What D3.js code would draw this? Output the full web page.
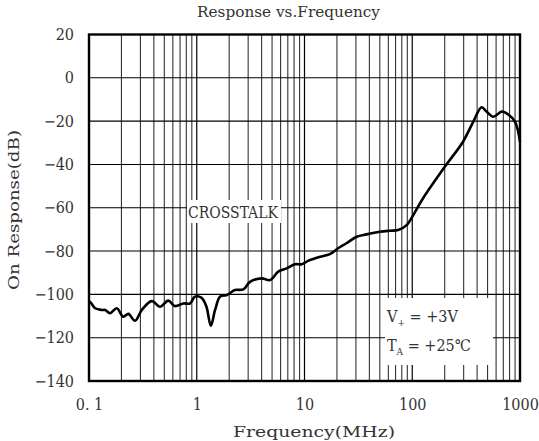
<!DOCTYPE html>
<html lang='en'>
    <head>
        <meta charset='utf-8'>
        <title>Response vs. Frequency</title>
        <script src="https://d3js.org/d3.v7.min.js" charset='utf-8'></script>
        <style type='text/css'>
            body { margin: 0; background: #fff; }
            svg text { font-family: 'DejaVu Serif Condensed', 'DejaVu Serif', serif; font-stretch: condensed; }
        </style>
    </head>
    <body>
        <script type='text/javascript'>
            // crosstalk curve: frequency (MHz), response (dB)
            var freq = [0.1, 0.102, 0.114, 0.131, 0.141, 0.157, 0.181, 0.208, 0.232, 0.267, 0.309,
                0.382, 0.456, 0.544, 0.628, 0.751, 0.865, 0.962, 1.11, 1.23, 1.35, 1.48, 1.65, 1.9,
                2.26, 2.71, 3.12, 4.01, 4.79, 5.71, 6.83, 8.16, 9.41, 10.9, 12.6, 14.0, 17.2, 20.5,
                24.5, 30.5, 37.6, 50, 61.9, 74, 88.7, 106, 126, 201, 296, 368, 440, 489, 565, 676,
                752, 899, 1000];
            var response = [-103.5, -103.4, -106.4, -107.2, -107.2, -108.7, -106.4, -110.3, -109, -112.2, -107.2,
                -103.1, -105.7, -102.9, -105.4, -104.2, -104.2, -101.1, -101.6, -105.7, -114.5, -107.2, -101, -100.3,
                -98, -97.7, -94.2, -92.6, -93.4, -89.5, -88, -86.1, -86.1, -84.4, -83.3, -82.6, -81.4, -78.7,
                -76.4, -73.4, -72.3, -71.1, -70.6, -70.3, -68, -62, -55.6, -41, -29.5, -20.3, -13.6, -15.6, -18, -15.6,
                -16.4, -20.3, -29.5];
            var xTicks = [0.1, 1, 10, 100, 1000];
            var xTickLabels = ['0. 1', '1', '10', '100', '1000'];
            var yTicks = [20, 0, -20, -40, -60, -80, -100, -120, -140];

            var width = 539, height = 441;
            var margin = {top: 34.5, right: 19, bottom: 60, left: 89};
            var svg = d3.select('body').append('svg')
                .attr('width', width)
                .attr('height', height);

            var x = d3.scaleLog().domain([0.1, 1000]).range([margin.left, width - margin.right]);
            var y = d3.scaleLinear().domain([-140, 20]).range([height - margin.bottom, margin.top]);

            // vertical grid: every 1..9 step of each decade
            var minor = [];
            for (var d = 0.1; d < 1000; d *= 10) {
                for (var k = 2; k <= 9; k++) minor.push(d * k);
            }
            svg.append('g').selectAll('line.minor')
                .data(minor)
                .enter().append('line')
                .attr('x1', function(v) { return x(v); })
                .attr('x2', function(v) { return x(v); })
                .attr('y1', y(20))
                .attr('y2', y(-140))
                .attr('stroke', '#333')
                .attr('stroke-width', 1.1);
            svg.append('g').selectAll('line.decade')
                .data(xTicks)
                .enter().append('line')
                .attr('x1', function(v) { return x(v); })
                .attr('x2', function(v) { return x(v); })
                .attr('y1', y(20))
                .attr('y2', y(-140))
                .attr('stroke', '#000')
                .attr('stroke-width', 1.2);
            svg.append('g').selectAll('line.h')
                .data(yTicks)
                .enter().append('line')
                .attr('x1', x(0.1))
                .attr('x2', x(1000))
                .attr('y1', function(v) { return y(v); })
                .attr('y2', function(v) { return y(v); })
                .attr('stroke', '#000')
                .attr('stroke-width', 1.1);

            // annotation boxes
            svg.append('rect')
                .attr('x', 187).attr('y', 200).attr('width', 94).attr('height', 23)
                .attr('fill', '#fff');
            svg.append('text')
                .attr('x', 188).attr('y', 218)
                .attr('font-size', 17)
                .attr('textLength', 90)
                .attr('lengthAdjust', 'spacingAndGlyphs')
                .attr('fill', '#333')
                .text('CROSSTALK');

            svg.append('rect')
                .attr('x', 385).attr('y', 298).attr('width', 108).attr('height', 67)
                .attr('fill', '#fff');
            var t1 = svg.append('text').attr('x', 387).attr('y', 322).attr('font-size', 16).attr('fill', '#333');
            t1.append('tspan').text('V');
            t1.append('tspan').attr('font-size', 10).attr('dy', 4).text('+');
            t1.append('tspan').attr('dy', -4).text(' =  +3V');
            var t2 = svg.append('text').attr('x', 387).attr('y', 351).attr('font-size', 16).attr('fill', '#333');
            t2.append('tspan').text('T');
            t2.append('tspan').attr('font-size', 10).attr('dy', 4).text('A');
            t2.append('tspan').attr('dy', -4).text(' =  +25\u2103');

            // curve
            var line = d3.line()
                .x(function(d) { return x(d[0]); })
                .y(function(d) { return y(d[1]); })
                .curve(d3.curveCatmullRom.alpha(0.5));
            svg.append('path')
                .datum(d3.zip(freq, response))
                .attr('d', line)
                .attr('fill', 'none')
                .attr('stroke', '#000')
                .attr('stroke-width', 2.6)
                .attr('stroke-linejoin', 'round');

            // frame
            svg.append('rect')
                .attr('x', x(0.1)).attr('y', y(20))
                .attr('width', x(1000) - x(0.1))
                .attr('height', y(-140) - y(20))
                .attr('fill', 'none')
                .attr('stroke', '#000')
                .attr('stroke-width', 2.4);

            // axes text
            var yAxis = d3.axisLeft(y).tickValues(yTicks).tickSize(0).tickPadding(15)
                .tickFormat(function(v) { return v < 0 ? '\u2212' + (-v) : v; });
            svg.append('g')
                .attr('transform', 'translate(' + margin.left + ',0)')
                .call(yAxis)
                .attr('font-family', null)
                .call(function(g) { g.select('.domain').remove(); })
                .selectAll('text')
                .attr('font-size', 16)
                .attr('fill', '#333');

            var xAxis = d3.axisBottom(x).tickValues(xTicks).tickSize(0).tickPadding(18)
                .tickFormat(function(v, i) { return xTickLabels[i]; });
            svg.append('g')
                .attr('transform', 'translate(0,' + y(-140) + ')')
                .call(xAxis)
                .attr('font-family', null)
                .call(function(g) { g.select('.domain').remove(); })
                .selectAll('text')
                .attr('font-size', 16)
                .attr('fill', '#333');

            svg.append('text')
                .attr('x', 233).attr('y', 437)
                .attr('font-size', 15)
                .attr('textLength', 162)
                .attr('lengthAdjust', 'spacingAndGlyphs')
                .attr('fill', '#333')
                .text('Frequency(MHz)');
            svg.append('text')
                .attr('transform', 'translate(19,290) rotate(-90)')
                .attr('font-size', 15)
                .attr('textLength', 160)
                .attr('lengthAdjust', 'spacingAndGlyphs')
                .attr('fill', '#333')
                .text('On Response(dB)');
            svg.append('text')
                .attr('x', 197).attr('y', 17)
                .attr('font-size', 14)
                .attr('textLength', 183)
                .attr('lengthAdjust', 'spacingAndGlyphs')
                .attr('fill', '#333')
                .text('Response vs.Frequency');
        </script>
    </body>
</html>
